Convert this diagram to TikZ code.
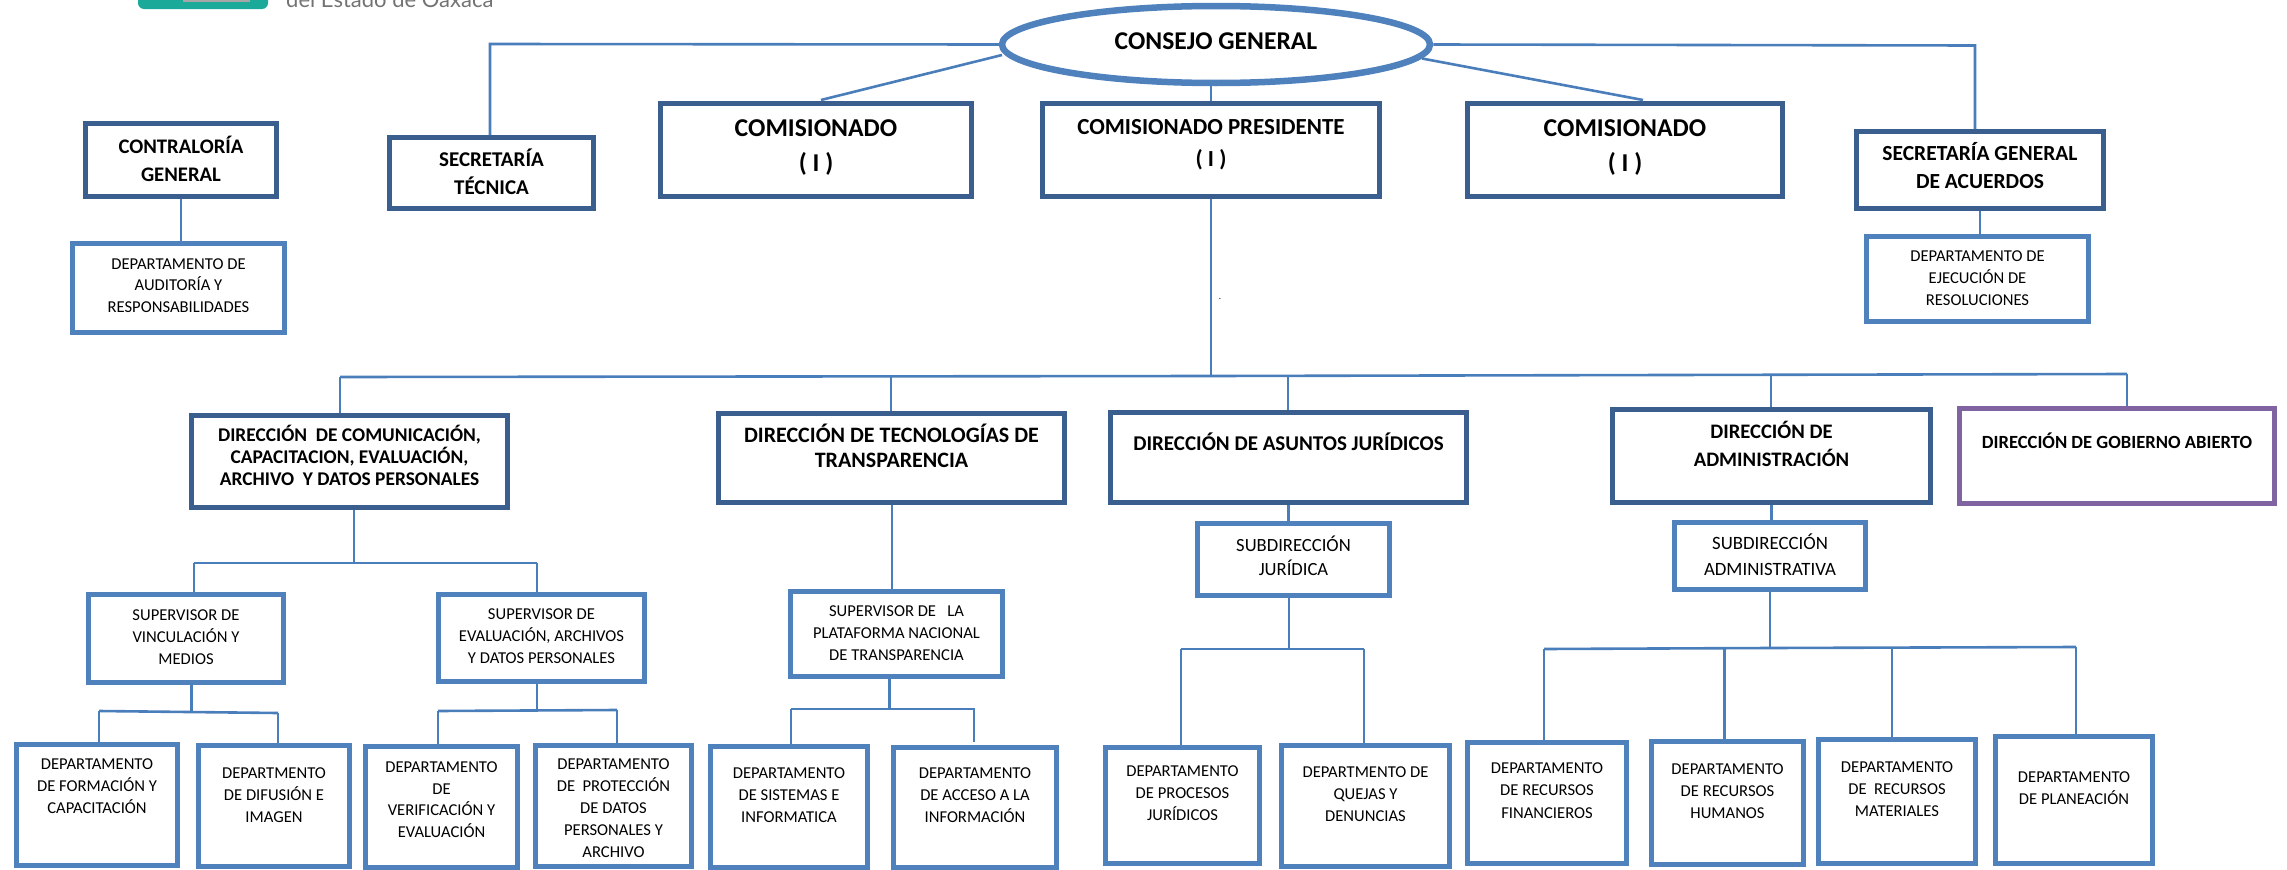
\documentclass[tikz,border=0pt]{standalone}
\usepackage{fontspec}
\setmainfont{Carlito}
\newfontfamily\logofont{Lato}
\usetikzlibrary{shapes.geometric}
\definecolor{darkb}{HTML}{3A5F8F}
\definecolor{lightb}{HTML}{4F81BD}
\definecolor{purp}{HTML}{8064A2}
\definecolor{conn}{HTML}{4A7EBB}
\definecolor{logot}{HTML}{1BA99A}
\tikzset{
  darkbox/.style={draw=darkb,line width=5pt,fill=white,rectangle,inner sep=0pt},
  lightbox/.style={draw=lightb,line width=5pt,fill=white,rectangle,inner sep=0pt},
  purpbox/.style={draw=purp,line width=5pt,fill=white,rectangle,inner sep=0pt},
  link/.style={draw=conn,line width=2.6pt}
}
% \bx{name}{l,t,r,b}{style}{font size,pitch,first line centre y}{text}
\def\bxparse#1,#2,#3,#4;#5,#6,#7;{\def\bxL{#1}\def\bxT{#2}\def\bxR{#3}\def\bxB{#4}\def\bxF{#5}\def\bxP{#6}\def\bxC{#7}}
\newcommand\bx[5]{%
  \bxparse#2;#4;%
  \pgfmathsetmacro\bxW{\bxR-\bxL-5}%
  \pgfmathsetmacro\bxH{\bxB-\bxT-5}%
  \pgfmathsetmacro\bxX{(\bxL+\bxR)/2}%
  \pgfmathsetmacro\bxY{(\bxT+\bxB)/2}%
  \pgfmathsetmacro\bxG{\bxC-\bxT-2.5-0.88*\bxF}%
  \node[#3,minimum width=\bxW pt,minimum height=\bxH pt] (#1) at (\bxX,\bxY)
    {\parbox[c][\bxH pt][t]{\bxW pt}{\fontsize{\bxF pt}{\bxP pt}\selectfont\lineskiplimit=-100pt\centering\vspace*{\bxG pt}\rule{0pt}{1.2em}#5\par}};%
}
\begin{document}
\begin{tikzpicture}[x=1pt,y=-1pt]
\useasboundingbox (0,0) rectangle (2287,870);
% logo fragment
\fill[logot,rounded corners=6pt] (138,-30) rectangle (268,9);
\fill[gray!70] (183,-10) rectangle (250,1.5);
\node[anchor=base west,inner sep=0pt,text=black!55,font=\logofont\fontsize{22pt}{24pt}\selectfont] (logotext) at (286,8) {del Estado de Oaxaca};
% top level
\node[ellipse,draw=lightb,line width=6.5pt,fill=white,minimum width=428pt,minimum height=77pt,inner sep=0pt,font=\bfseries\fontsize{25.6pt}{28pt}\selectfont] (cg) at (1216,44.5) {\raisebox{6pt}{CONSEJO GENERAL}};
\bx{contra}{83,121,279,199}{darkbox}{20.7,28,147}{\bfseries CONTRALORÍA\\GENERAL}
\bx{depaud}{70,241,287,335}{lightbox}{16.6,21.5,264}{DEPARTAMENTO DE\\AUDITORÍA Y\\RESPONSABILIDADES}
\bx{sectec}{387,135,596,211}{darkbox}{21,28,160}{\bfseries SECRETARÍA\\TÉCNICA}
\bx{com1}{658,101,974,199}{darkbox}{25.7,35,128}{\bfseries COMISIONADO\\( I )}
\bx{pres}{1040,101,1382,199}{darkbox}{23,32,127}{\bfseries COMISIONADO PRESIDENTE\\( I )}
\bx{com2}{1465,101,1785,199}{darkbox}{25.7,35,128}{\bfseries COMISIONADO\\( I )}
\bx{sga}{1854,129,2106,211}{darkbox}{21.5,28,154}{\bfseries SECRETARÍA GENERAL\\DE ACUERDOS}
\bx{depeje}{1864,234,2091,324}{lightbox}{16.6,22,256}{DEPARTAMENTO DE\\EJECUCIÓN DE\\RESOLUCIONES}
\node[inner sep=0pt,font=\fontsize{9pt}{10pt}\selectfont] (dot) at (1220,299) {.};
% directions
\bx{dircom}{189,413,510,510}{darkbox}{19.4,22,435}{\bfseries DIRECCIÓN\ \ DE COMUNICACIÓN,\\CAPACITACION, EVALUACIÓN,\\ARCHIVO\ \ Y DATOS PERSONALES}
\bx{dirtec}{716,411,1067,505}{darkbox}{22,25,435}{\bfseries DIRECCIÓN DE TECNOLOGÍAS DE\\TRANSPARENCIA}
\bx{dirjur}{1108,410,1469,505}{darkbox}{21,25,444}{\bfseries DIRECCIÓN DE ASUNTOS JURÍDICOS}
\bx{diradm}{1610,407,1933,505}{darkbox}{20.6,28,432}{\bfseries DIRECCIÓN DE\\ADMINISTRACIÓN}
\bx{dirgob}{1957,406,2277,506}{purpbox}{18.6,24,443}{\bfseries DIRECCIÓN DE GOBIERNO ABIERTO}
% second level
\bx{supvin}{86,592,286,685}{lightbox}{16.6,22,615}{SUPERVISOR DE\\VINCULACIÓN Y\\MEDIOS}
\bx{supeva}{436,592,647,684}{lightbox}{16.6,22,614}{SUPERVISOR DE\\EVALUACIÓN, ARCHIVOS\\Y DATOS PERSONALES}
\bx{suppla}{788,589,1005,679}{lightbox}{16.6,22,611}{SUPERVISOR DE\ \ \ LA\\PLATAFORMA NACIONAL\\DE TRANSPARENCIA}
\bx{subjur}{1195,521,1392,598}{lightbox}{18.6,24,546}{SUBDIRECCIÓN\\JURÍDICA}
\bx{subadm}{1672,520,1868,592}{lightbox}{18.8,26,543}{SUBDIRECCIÓN\\ADMINISTRATIVA}
% departments
\bx{depfor}{14,742,180,868}{lightbox}{16.6,22,764}{DEPARTAMENTO\\DE FORMACIÓN Y\\CAPACITACIÓN}
\bx{depdif}{196,743,352,869}{lightbox}{16.6,22,773}{DEPARTMENTO\\DE DIFUSIÓN E\\IMAGEN}
\bx{depver}{363,744,520,870}{lightbox}{16.6,21.7,767}{DEPARTAMENTO\\DE\\VERIFICACIÓN Y\\EVALUACIÓN}
\bx{deppro}{533,743,694,869}{lightbox}{16.6,22,764}{DEPARTAMENTO\\DE\ \ PROTECCIÓN\\DE DATOS\\PERSONALES Y\\ARCHIVO}
\bx{depsis}{708,744,870,870}{lightbox}{16.6,22,773}{DEPARTAMENTO\\DE SISTEMAS E\\INFORMATICA}
\bx{depacc}{891,745,1059,870}{lightbox}{16.6,22,773}{DEPARTAMENTO\\DE ACCESO A LA\\INFORMACIÓN}
\bx{depprc}{1103,745,1262,866}{lightbox}{16.6,22,771}{DEPARTAMENTO\\DE PROCESOS\\JURÍDICOS}
\bx{depque}{1279,743,1452,869}{lightbox}{16.6,22,772}{DEPARTMENTO DE\\QUEJAS Y\\DENUNCIAS}
\bx{depfin}{1465,740,1629,866}{lightbox}{16.6,22.5,768}{DEPARTAMENTO\\DE RECURSOS\\FINANCIEROS}
\bx{dephum}{1649,739,1806,867}{lightbox}{16.6,22,769}{DEPARTAMENTO\\DE RECURSOS\\HUMANOS}
\bx{depmat}{1816,737,1978,866}{lightbox}{16.6,22,767}{DEPARTAMENTO\\DE\ \ RECURSOS\\MATERIALES}
\bx{deppla}{1993,734,2155,866}{lightbox}{16.6,22,777}{DEPARTAMENTO\\DE PLANEACIÓN}
% junctions
\coordinate (jl) at (490,44);
\coordinate (jr) at (1975,45.5);
\coordinate (b0) at (1211,376);
\coordinate (bl) at (340,377);
\coordinate (bt) at (891,377);
\coordinate (bj) at (1288,375);
\coordinate (ba) at (1771,374.5);
\coordinate (bg) at (2127,374);
\coordinate (c0) at (354,563);
\coordinate (c1) at (194,563);
\coordinate (c2) at (537,563);
\coordinate (t0) at (892,505);
\coordinate (v0) at (191.5,712);
\coordinate (v1) at (99,711);
\coordinate (v2) at (278,713);
\coordinate (e0) at (537,711);
\coordinate (e1) at (438,711);
\coordinate (e2) at (617,710);
\coordinate (p0) at (889.5,709);
\coordinate (p1) at (791,709);
\coordinate (p2) at (974,709);
\coordinate (pe) at (974,742);
\coordinate (j0) at (1289,649);
\coordinate (j1) at (1181,649);
\coordinate (j2) at (1364,649);
\coordinate (a0) at (1770,648);
\coordinate (a1) at (1544,649);
\coordinate (a2) at (1724.5,648);
\coordinate (a3) at (1892,648);
\coordinate (a4) at (2076,647);
% connectors from the council
\draw[link] (cg.west) -- (jl) -- (jl |- sectec.north);
\draw[link] (cg.east) -- (jr) -- (jr |- sga.north);
\draw[link] (1002,55) -- (821,100);
\draw[link] (cg) ++(206,14) -- (1643,100);
\draw[link] (cg.south -| pres) -- (pres.north);
\draw[link] (contra.south) -- (depaud.north -| contra);
\draw[link] (sga.south) -- (depeje.north -| sga);
% main bus
\draw[link] (pres.south) -- (b0);
\draw[link] (bl) -- (b0) -- (bg);
\draw[link] (bl) -- (bl |- dircom.north);
\draw[link] (bt) -- (bt |- dirtec.north);
\draw[link] (bj) -- (bj |- dirjur.north);
\draw[link] (ba) -- (ba |- diradm.north);
\draw[link] (bg) -- (bg |- dirgob.north);
% direction of communication
\draw[link] (dircom.south -| c0) -- (c0);
\draw[link] (c1) -- (c2);
\draw[link] (c1) -- (c1 |- supvin.north);
\draw[link] (c2) -- (c2 |- supeva.north);
\draw[link] (supvin.south -| v0) -- (v0);
\draw[link] (v1) -- (v2);
\draw[link] (v1) -- (v1 |- depfor.north);
\draw[link] (v2) -- (v2 |- depdif.north);
\draw[link] (supeva.south -| e0) -- (e0);
\draw[link] (e1) -- (e2);
\draw[link] (e1) -- (e1 |- depver.north);
\draw[link] (e2) -- (e2 |- deppro.north);
% technology
\draw[link] (dirtec.south -| t0) -- (suppla.north -| t0);
\draw[link] (suppla.south -| p0) -- (p0);
\draw[link] (p1) -- (p2) -- (pe);
\draw[link] (p1) -- (p1 |- depsis.north);
% legal
\draw[link] (dirjur.south) -- (subjur.north -| dirjur);
\draw[link] (subjur.south -| j0) -- (j0);
\draw[link] (j1) -- (j2);
\draw[link] (j1) -- (j1 |- depprc.north);
\draw[link] (j2) -- (j2 |- depque.north);
% administration
\draw[link] (diradm.south) -- (subadm.north -| diradm);
\draw[link] (subadm.south -| a0) -- (a0);
\draw[link] (a1) -- (a0) -- (a4);
\draw[link] (a1) -- (a1 |- depfin.north);
\draw[link] (a2) -- (a2 |- dephum.north);
\draw[link] (a3) -- (a3 |- depmat.north);
\draw[link] (a4) -- (a4 |- deppla.north);
\end{tikzpicture}
\end{document}
